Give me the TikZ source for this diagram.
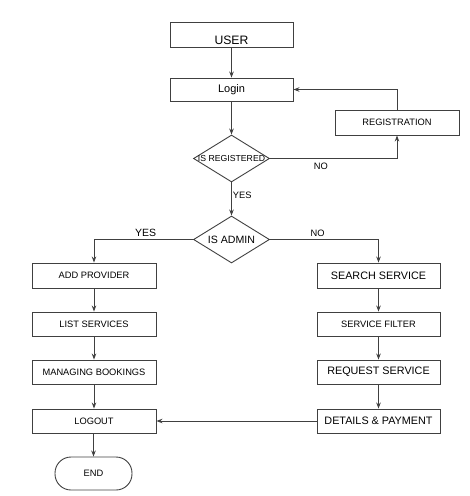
\documentclass[tikz,border=0pt]{standalone}
\usepackage{fontspec}
\setmainfont{Liberation Sans}
\usetikzlibrary{shapes.geometric, arrows.meta}

\begin{document}
\begin{tikzpicture}[
    x=1pt, y=-1pt,
    box/.style={draw=black!75, line width=0.9pt, minimum width=123pt, minimum height=24pt, inner sep=0pt, font=\fontsize{9.3}{11}\selectfont},
    bigbox/.style={box, font=\fontsize{10.8}{13}\selectfont},
    decision/.style={draw=black!75, line width=0.9pt, diamond, inner sep=0pt, minimum width=76pt, minimum height=47pt},
    term/.style={draw=black!75, line width=0.9pt, rounded corners=16pt, minimum width=77pt, minimum height=33pt, inner sep=0pt, font=\fontsize{9.3}{11}\selectfont},
    arrow/.style={-{Stealth[length=6pt, width=4.5pt]}, draw=black!75, line width=0.9pt},
    lbl/.style={font=\fontsize{9.3}{11}\selectfont, inner sep=1pt}
]
    \useasboundingbox (0,0) rectangle (470,496);

    % top part
    \node[box, minimum height=25pt, label={[yshift=-5.5pt, font=\fontsize{12.2}{14}\selectfont]center:USER}] (user) at (231.5,34.5) {};
    \node[box, font=\fontsize{11}{13}\selectfont, minimum height=23pt] (login) at (231.5,89.5) {Login};
    \node[box, minimum width=124pt, minimum height=25pt] (reg) at (397,122.5) {REGISTRATION};
    \node[decision, label={[font=\fontsize{8.7}{10}\selectfont, inner sep=0pt]center:IS REGISTERED}] (isreg) at (231.5,158.5) {};
    \node[decision, label={[font=\fontsize{10.6}{12}\selectfont, inner sep=0pt]center:IS ADMIN}] (isadmin) at (231.5,239.5) {};

    % admin side
    \node[box, minimum width=124pt, minimum height=25pt] (addprov) at (94,275.5) {ADD PROVIDER};
    \node[box, minimum width=124pt] (listserv) at (94,324) {LIST SERVICES};
    \node[box, minimum width=124pt] (managebook) at (94,372) {MANAGING BOOKINGS};
    \node[box, minimum width=124pt] (logout) at (94,421) {LOGOUT};
    \node[term] (end) at (93.5,473.5) {END};

    % user side
    \node[bigbox, minimum height=25pt] (search) at (378.5,275.5) {SEARCH SERVICE};
    \node[box] (filter) at (378.5,324) {SERVICE FILTER};
    \node[bigbox] (request) at (378.5,372) {REQUEST SERVICE};
    \node[bigbox] (details) at (378.5,421) {DETAILS \& PAYMENT};

    \draw[arrow] (user) -- (login);
    \draw[arrow] (login) -- (isreg);
    \draw[arrow] (isreg.east) -| node[lbl, pos=0.2, below=3pt] {NO} (reg.south);
    \draw[arrow] (reg.north) |- (login.east);
    \draw[arrow] (isreg) -- node[lbl, pos=0.4, right] {YES} (isadmin);
    \draw[arrow] (isadmin.west) -| node[lbl, pos=0.24, above=1pt, font=\fontsize{10.5}{12}\selectfont] {YES} (addprov.north);
    \draw[arrow] (isadmin.east) -| node[lbl, pos=0.22, above=1pt] {NO} (search.north);

    \draw[arrow] (addprov) -- (listserv);
    \draw[arrow] (listserv) -- (managebook);
    \draw[arrow] (managebook) -- (logout);
    \draw[arrow] (logout.south -| end.north) -- (end.north);

    \draw[arrow] (search) -- (filter);
    \draw[arrow] (filter) -- (request);
    \draw[arrow] (request) -- (details);
    \draw[arrow] (details) -- (logout);
\end{tikzpicture}
\end{document}
